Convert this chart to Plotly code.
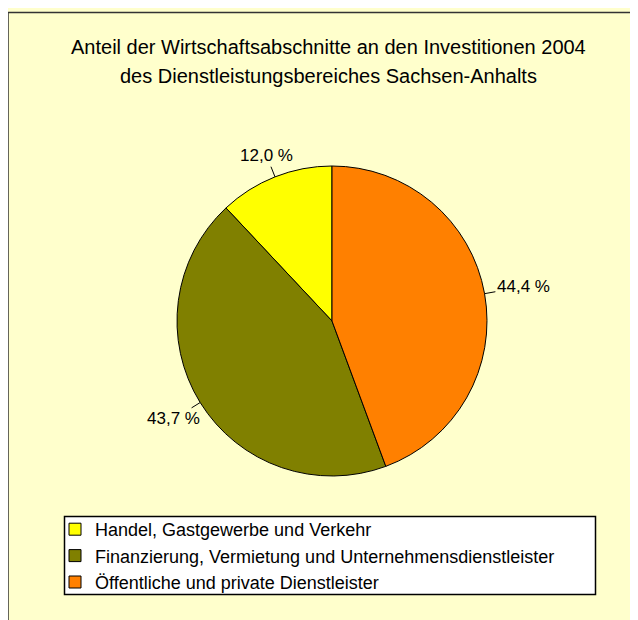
import math
import plotly.graph_objects as go

# ---- data ----
categories = [
    "Handel, Gastgewerbe und Verkehr",
    "Finanzierung, Vermietung und Unternehmensdienstleister",
    "Öffentliche und private Dienstleister",
]
values = [12.0, 43.7, 44.4]
colors = ["#FFFF00", "#808000", "#FF8000"]
title_lines = [
    "Anteil der Wirtschaftsabschnitte an den Investitionen 2004",
    "des Dienstleistungsbereiches Sachsen-Anhalts",
]

W, H = 630, 612  # page has 8px body margin
FONT = "Arial, 'Liberation Sans', sans-serif"

# pie geometry (figure pixels)
cx, cy, r = 324, 313, 155
total = sum(values)

fig = go.Figure(
    go.Pie(
        labels=categories,
        values=values,
        sort=False,
        direction="counterclockwise",
        rotation=-360 * values[0] / total,
        marker=dict(colors=colors, line=dict(color="black", width=1)),
        textinfo="none",
        hoverinfo="label+percent",
        domain=dict(
            x=[(cx - r) / W, (cx + r) / W],
            y=[(H - cy - r) / H, (H - cy + r) / H],
        ),
    )
)

# outside labels with short leader lines, positioned from data angles
annotations = []
cum = 0.0
hw, hh, gap = 27, 10, 12
for v in values:
    mid = (cum + v / 2) / total
    cum += v
    th = 2 * math.pi * mid  # counterclockwise from 12 o'clock
    sx, sy = -math.sin(th), math.cos(th)  # outward unit vector (y up)
    edge = min(hw / max(abs(sx), 1e-6), hh / max(abs(sy), 1e-6))
    d = gap + edge
    annotations.append(
        dict(
            x=(cx + r * sx) / W,
            y=(H - cy + r * sy) / H,
            xref="paper",
            yref="paper",
            text=f"{v:.1f}".replace(".", ",") + " %",
            showarrow=True,
            arrowhead=0,
            arrowwidth=1,
            arrowcolor="black",
            ax=d * sx,
            ay=-d * sy,
            font=dict(family=FONT, size=17, color="black"),
        )
    )

for i, line in enumerate(title_lines):
    annotations.append(
        dict(
            x=320 / W,
            y=1 - (39 + 29 * i) / H,
            xref="paper",
            yref="paper",
            xanchor="center",
            yanchor="middle",
            text=line,
            showarrow=False,
            font=dict(family=FONT, size=20, color="black"),
        )
    )

shapes = [
    # chart area frame
    dict(
        type="rect", xref="paper", yref="paper",
        x0=0.0, x1=1.05, y0=-0.05, y1=1 - 4.5 / H,
        fillcolor="#FFFFCC", line=dict(color="#333333", width=1.5),
        layer="below",
    ),
    # legend box
    dict(
        type="rect", xref="paper", yref="paper",
        x0=56.5 / W, x1=587.5 / W, y0=1 - 586.5 / H, y1=1 - 508.5 / H,
        fillcolor="white", line=dict(color="black", width=1.5),
        layer="below",
    ),
]

fig.update_layout(
    width=W,
    height=H,
    margin=dict(l=0, r=0, t=0, b=0),
    paper_bgcolor="#FFFFCC",
    plot_bgcolor="rgba(0,0,0,0)",
    font=dict(family=FONT, color="black"),
    showlegend=True,
    legend=dict(
        x=47 / W,
        y=1 - 503 / H,
        xanchor="left",
        yanchor="top",
        bgcolor="rgba(0,0,0,0)",
        borderwidth=0,
        font=dict(family=FONT, size=18, color="black"),
        traceorder="normal",
    ),
    annotations=annotations,
    shapes=shapes,
)

fig.write_html("out.html")
